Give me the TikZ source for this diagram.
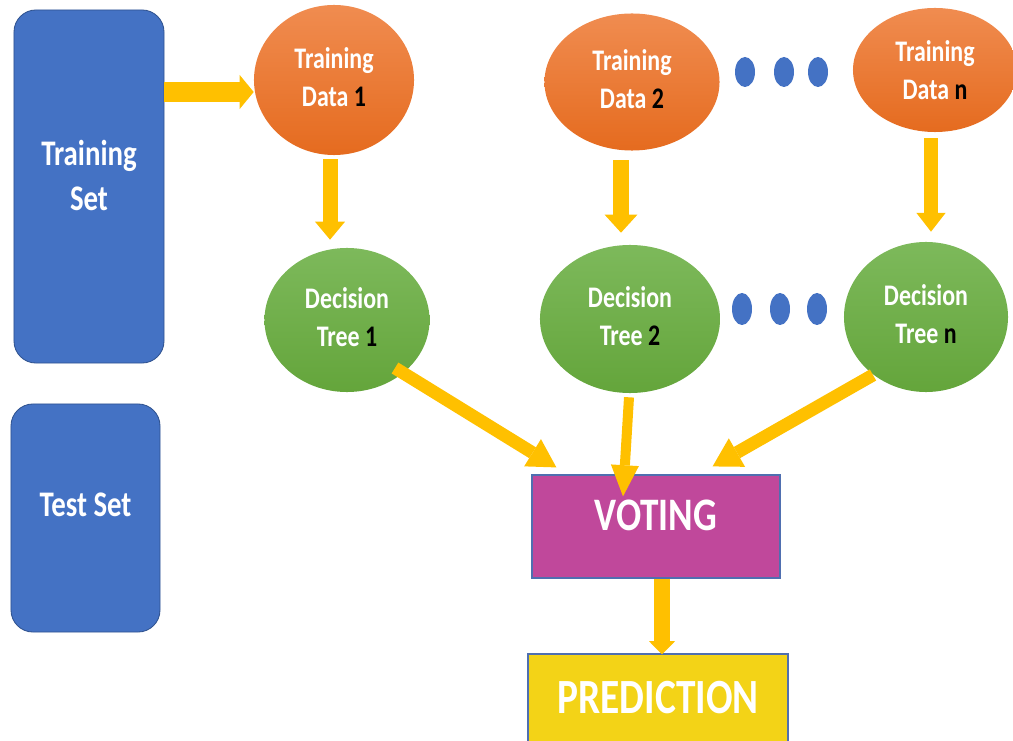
\documentclass[tikz,border=0pt]{standalone}
\usepackage{fontspec}
\setmainfont{Carlito}
\usepackage{xcolor}
\usetikzlibrary{arrows.meta,calc,positioning,shapes.geometric}
\definecolor{rfblue}{HTML}{4472C4}
\definecolor{rfblueline}{HTML}{2F528F}
\definecolor{rforangetop}{HTML}{F08C50}
\definecolor{rforangebot}{HTML}{E56B1F}
\definecolor{rfgreentop}{HTML}{7DB95B}
\definecolor{rfgreenbot}{HTML}{64A53B}
\definecolor{rfyellow}{HTML}{FFC000}
\definecolor{rfvote}{HTML}{C0489B}
\definecolor{rfpred}{HTML}{F3D317}
\definecolor{rfboxline}{HTML}{4F6FB0}
\newcommand{\rftall}[1]{\scalebox{1}[1.25]{#1}}
\newcommand{\rfnum}[1]{\textcolor{black}{#1}}
\tikzset{
  rf set/.style={rectangle,rounded corners=0.55cm,fill=rfblue,draw=rfblueline,line width=0.6pt,
    text=white,font=\bfseries\fontsize{20.5}{32}\selectfont,align=center},
  rf data/.style={ellipse,top color=rforangetop,bottom color=rforangebot,text=white,
    font=\bfseries\fontsize{17}{27.5}\selectfont,align=center,text depth=0.15cm},
  rf tree/.style={ellipse,top color=rfgreentop,bottom color=rfgreenbot,text=white,
    font=\bfseries\fontsize{17}{27.5}\selectfont,align=center,text depth=0.15cm},
  rf box/.style={rectangle,fill=#1,draw=rfboxline,line width=0.8pt,text=white},
  rf dot/.style={fill=rfblue},
  rf arrow/.style n args={3}{draw=rfyellow,line width=#1,line cap=butt,
    -{Triangle[width=#2,length=#3,line width=0pt]}}
}
\begin{document}
\begin{tikzpicture}[x=0.025cm,y=-0.025cm]
  \useasboundingbox (0,0) rectangle (1013,741);
  \node[rf set,minimum width=3.75cm,minimum height=8.825cm,text depth=0.55cm] (trainset) at (89,186.5) {\rftall{Training}\\\rftall{Set}};
  \node[rf set,minimum width=3.725cm,minimum height=5.7cm,text depth=0.65cm] (testset) at (85.5,518) {\rftall{Test Set}};

  \node[rf data,minimum width=4cm,minimum height=3.75cm] (td1) at (334,80) {\rftall{Training}\\\rftall{Data \rfnum{1}}};
  \node[rf data,minimum width=4.375cm,minimum height=3.425cm] (td2) at (632,82) {\rftall{Training}\\\rftall{Data \rfnum{2}}};
  \node[rf data,minimum width=4.1cm,minimum height=3.1cm,text depth=0cm] (tdn) at (935,70) {\rftall{Training}\\\rftall{Data \rfnum{n}}};

  \node[rf tree,minimum width=4.125cm,minimum height=3.6cm] (dt1) at (347,320) {\rftall{Decision}\\\rftall{Tree \rfnum{1}}};
  \node[rf tree,minimum width=4.5cm,minimum height=3.7cm] (dt2) at (630,319) {\rftall{Decision}\\\rftall{Tree \rfnum{2}}};
  \node[rf tree,minimum width=4.1cm,minimum height=3.75cm] (dtn) at (926,317) {\rftall{Decision}\\\rftall{Tree \rfnum{n}}};

  \node[rf box=rfvote,minimum width=6.2cm,minimum height=2.575cm,text depth=0.58cm,
    font=\bfseries\fontsize{26.5}{30}\selectfont] (vote) at (656,526.5) {\rftall{VOTING}};
  \node[rf box=rfpred,minimum width=6.5cm,minimum height=2.2cm,
    font=\bfseries\fontsize{28}{32}\selectfont] (pred) at (658,698) {\rftall{PREDICTION}};

  \foreach \x in {745,784,818}
    \fill[rf dot] (\x,72) ellipse (10 and 15);
  \foreach \x in {742,780,817}
    \fill[rf dot] (\x,309) ellipse (10 and 16);

  \coordinate (feed) at (0,92);
  \draw[rf arrow={0.5cm}{0.85cm}{0.35cm}] (trainset.east |- feed) -- (td1.west |- feed);
  \draw[rf arrow={0.375cm}{0.75cm}{0.45cm}] ($(td1.south)+(-4,4)$) -- ($(td1.south |- dt1.north)+(-4,-8)$);
  \draw[rf arrow={0.4cm}{0.82cm}{0.45cm}] ($(td2.south)+(-11,9.5)$) -- ($(td2.south |- dt2.north)+(-11,-12)$);
  \draw[rf arrow={0.35cm}{0.73cm}{0.47cm}] ($(tdn.south)+(-4,6)$) -- ($(tdn.south |- dtn.north)+(-4,-10)$);

  \draw[rf arrow={0.32cm}{0.8cm}{0.7cm}] ($(dt1.center)+(48,48)$) -- ($(vote.north west)+(25,-7)$);
  \draw[rf arrow={0.25cm}{0.7cm}{0.78cm}] ($(dt2.south)+(-1,4)$) -- ($(vote.north)+(-33,22)$);
  \draw[rf arrow={0.32cm}{0.82cm}{0.7cm}] ($(dtn.center)+(-53,58)$) -- ($(vote.north east)+(-68,-8)$);
  \draw[rf arrow={0.4cm}{0.65cm}{0.33cm}] ($(vote.south)+(6,0)$) -- ($(pred.north)+(4,1)$);
\end{tikzpicture}
\end{document}
